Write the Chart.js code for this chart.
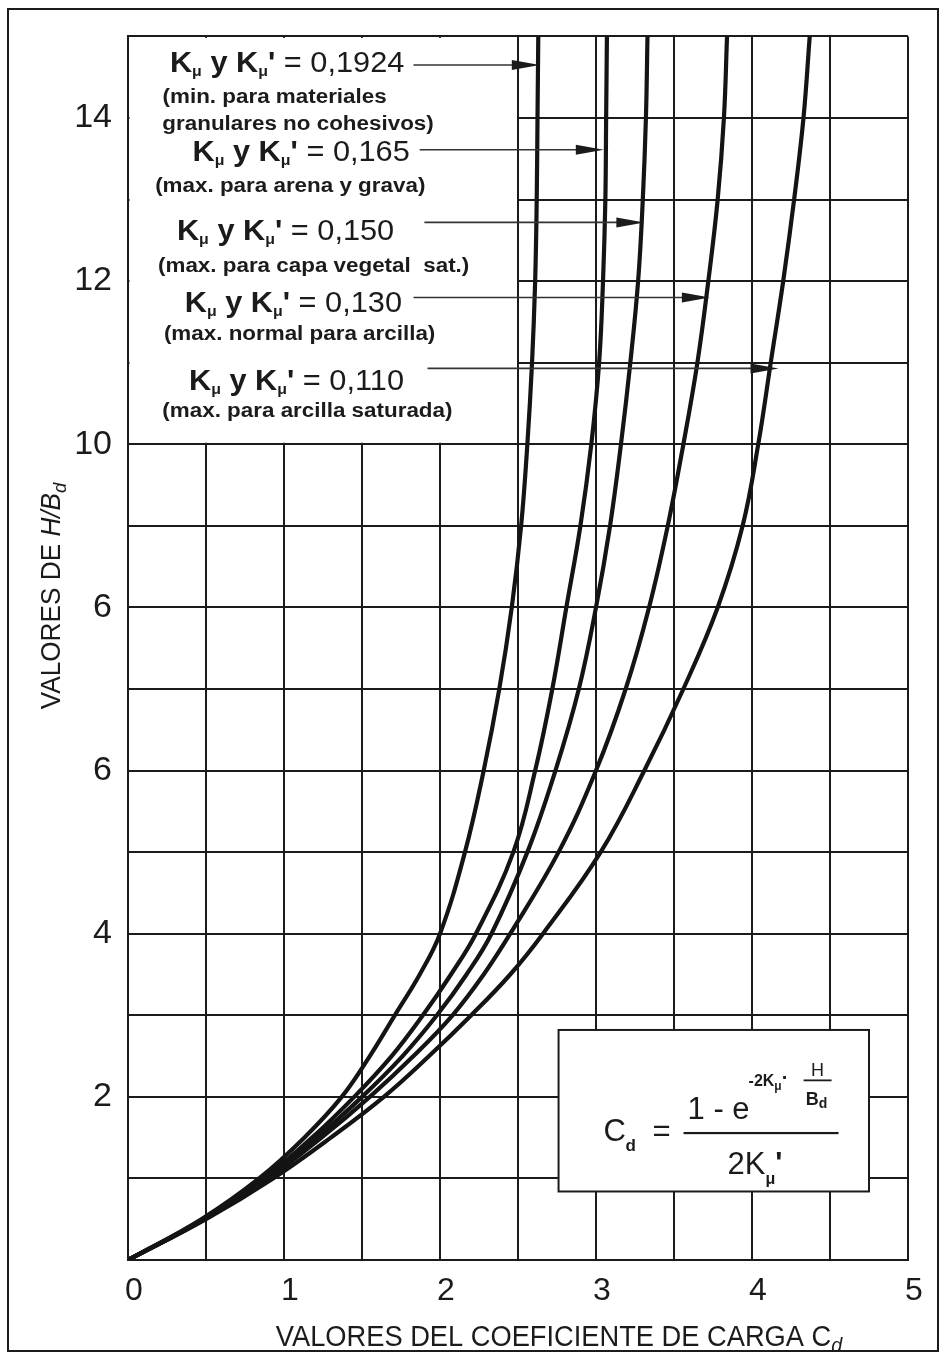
<!DOCTYPE html>
<html>
<head>
<meta charset="utf-8">
<script src="https://cdn.jsdelivr.net/npm/chart.js@4.4.1/dist/chart.umd.min.js"></script>
<style>
  html, body { margin: 0; padding: 0; background: #fff; }
  canvas { display: block; }
</style>
</head>
<body>
<canvas id="chart" width="941" height="1354"></canvas>
<script>
// H/Bd values, shared by every curve
const hOverB = [0, 0.5, 1, 1.5, 2, 2.5, 3, 3.5, 4, 5, 6, 7, 8, 9, 10, 11, 12, 13, 14, 15];
// Cd, one list per K value
const cdK1924 = [0, 0.47, 0.84, 1.13, 1.37, 1.55, 1.71, 1.87, 2.0, 2.16, 2.28, 2.38, 2.46, 2.52, 2.56, 2.59, 2.61, 2.62, 2.625, 2.63];
const cdK165 = [0, 0.48, 0.87, 1.18, 1.45, 1.69, 1.89, 2.07, 2.23, 2.47, 2.61, 2.72, 2.81, 2.9, 2.97, 3.02, 3.045, 3.06, 3.065, 3.07];
const cdK150 = [0, 0.49, 0.88, 1.21, 1.5, 1.76, 1.98, 2.17, 2.33, 2.56, 2.74, 2.89, 3.0, 3.09, 3.16, 3.22, 3.27, 3.3, 3.32, 3.33];
const cdK130 = [0, 0.49, 0.9, 1.24, 1.55, 1.83, 2.08, 2.28, 2.45, 2.76, 3.0, 3.19, 3.34, 3.46, 3.56, 3.65, 3.72, 3.78, 3.82, 3.84];
const cdK110 = [0, 0.5, 0.93, 1.3, 1.64, 1.93, 2.2, 2.45, 2.66, 3.03, 3.31, 3.56, 3.78, 3.94, 4.04, 4.12, 4.2, 4.27, 4.33, 4.37];

const kValues = ['0,1924', '0,165', '0,150', '0,130', '0,110'];
const kNotes = [
    ['(min. para materiales', 'granulares no cohesivos)'],
    ['(max. para arena y grava)'],
    ['(max. para capa vegetal  sat.)'],
    ['(max. normal para arcilla)'],
    ['(max. para arcilla saturada)'],
];

const xTickValues = [0, 1, 2, 3, 4, 5];
const xTickText = ['0', '1', '2', '3', '4', '5'];
const yTickValues = [2, 4, 6, 8, 10, 12, 14];
const yTickText = ['2', '4', '6', '6', '10', '12', '14'];

const SANS = '"Liberation Sans", Arial, sans-serif';
const INK = '#1b1b1b';

// where the annotations sit, in data units
const labelArea = { x0: 0, x1: 2.5, y0: 10, y1: 15 };
const formulaBox = { x0: 2.76, x1: 4.75, y0: 0.84, y1: 2.82 };
const kLabelPos = [[1.02, 14.69], [1.11, 13.59], [1.01, 12.63], [1.06, 11.75], [1.08, 10.79]];
const notePos = [[[0.94, 14.27], [1.09, 13.94]], [[1.04, 13.18]], [[1.19, 12.2]], [[1.1, 11.37]], [[1.15, 10.42]]];
const arrows = [
    { from: 1.83, to: 2.64, y: 14.65 },
    { from: 1.87, to: 3.05, y: 13.61 },
    { from: 1.9, to: 3.31, y: 12.72 },
    { from: 1.83, to: 3.73, y: 11.8 },
    { from: 1.92, to: 4.17, y: 10.93 },
];

function richWidth(ctx, parts) {
    let w = 0;
    parts.forEach(p => {
        ctx.font = p.font;
        w += ctx.measureText(p.t).width + (p.dx || 0);
    });
    return w;
}

// draws pieces of text one after another; stretch widens or narrows them
function drawRich(ctx, parts, x, y, align, stretch) {
    stretch = stretch || 1;
    const w = richWidth(ctx, parts) * stretch;
    let left = x;
    if (align === 'center') left = x - w / 2;
    if (align === 'right') left = x - w;
    ctx.save();
    ctx.translate(left, y);
    ctx.scale(stretch, 1);
    let cx = 0;
    parts.forEach(p => {
        ctx.font = p.font;
        ctx.fillText(p.t, cx, p.dy || 0);
        cx += ctx.measureText(p.t).width + (p.dx || 0);
    });
    ctx.restore();
    return left + w;
}

function kParts(value) {
    const big = 'bold 29px ' + SANS;
    const reg = '29px ' + SANS;
    const sub = 'bold 15px ' + SANS;
    return [
        { t: 'K', font: big },
        { t: 'μ', font: sub, dy: 4 },
        { t: ' y K', font: big },
        { t: 'μ', font: sub, dy: 4 },
        { t: "'", font: big },
        { t: ' = ' + value, font: reg },
    ];
}

const overlay = {
    id: 'overlay',
    beforeDatasetsDraw(chart) {
        const { ctx, scales: { x, y } } = chart;
        ctx.save();
        ctx.fillStyle = '#fff';
        // the label corner has no grid
        const l = x.getPixelForValue(labelArea.x0) + 1.5;
        const r = x.getPixelForValue(labelArea.x1) - 1;
        const t = y.getPixelForValue(labelArea.y1) + 1.5;
        const b = y.getPixelForValue(labelArea.y0) - 1.5;
        ctx.fillRect(l, t, r - l, b - t);

        // formula box
        const bx = x.getPixelForValue(formulaBox.x0);
        const bx1 = x.getPixelForValue(formulaBox.x1);
        const by = y.getPixelForValue(formulaBox.y1);
        const by1 = y.getPixelForValue(formulaBox.y0);
        ctx.fillRect(bx, by, bx1 - bx, by1 - by);
        ctx.strokeStyle = INK;
        ctx.lineWidth = 2;
        ctx.strokeRect(bx, by, bx1 - bx, by1 - by);
        ctx.restore();
    },
    afterDatasetsDraw(chart) {
        const { ctx, scales: { x, y } } = chart;
        ctx.save();
        ctx.fillStyle = INK;
        ctx.textBaseline = 'alphabetic';

        // K labels and their notes
        kValues.forEach((v, i) => {
            const [lx, ly] = kLabelPos[i];
            drawRich(ctx, kParts(v), x.getPixelForValue(lx), y.getPixelForValue(ly) + 10, 'center', 1.06);
            kNotes[i].forEach((note, j) => {
                const [nx, ny] = notePos[i][j];
                drawRich(ctx, [{ t: note, font: 'bold 20px ' + SANS }], x.getPixelForValue(nx), y.getPixelForValue(ny) + 7, 'center', 1.12);
            });
        });

        // arrows from the labels to the curves
        ctx.strokeStyle = '#333';
        ctx.lineWidth = 1.6;
        arrows.forEach(a => {
            const x0 = x.getPixelForValue(a.from);
            const x1 = x.getPixelForValue(a.to);
            const yy = y.getPixelForValue(a.y);
            ctx.beginPath();
            ctx.moveTo(x0, yy);
            ctx.lineTo(x1 - 20, yy);
            ctx.stroke();
            ctx.beginPath();
            ctx.moveTo(x1, yy);
            ctx.lineTo(x1 - 28, yy - 5);
            ctx.lineTo(x1 - 28, yy + 5);
            ctx.closePath();
            ctx.fill();
        });

        // formula
        const bx = x.getPixelForValue(formulaBox.x0);
        const by = y.getPixelForValue(formulaBox.y1);
        const f31 = '31px ' + SANS;
        drawRich(ctx, [{ t: 'C', font: f31 }], bx + 45, by + 111, 'left');
        drawRich(ctx, [{ t: 'd', font: 'bold 17px ' + SANS }], bx + 67, by + 121, 'left');
        drawRich(ctx, [{ t: '=', font: f31 }], bx + 94, by + 111, 'left');
        ctx.fillRect(bx + 125, by + 102, 155, 2.2);
        drawRich(ctx, [{ t: '1 - e', font: f31 }], bx + 129, by + 89, 'left');
        drawRich(ctx, [
            { t: '-2K', font: 'bold 16px ' + SANS },
            { t: 'μ', font: 'bold 12px ' + SANS, dy: 4 },
            { t: '·', font: 'bold 20px ' + SANS, dy: -2 },
        ], bx + 190, by + 56, 'left');
        drawRich(ctx, [{ t: 'H', font: '18px ' + SANS }], bx + 259, by + 46, 'center');
        ctx.fillRect(bx + 245, by + 49.5, 28, 1.8);
        drawRich(ctx, [
            { t: 'B', font: 'bold 18px ' + SANS },
            { t: 'd', font: 'bold 14px ' + SANS, dy: 3 },
        ], bx + 258, by + 75, 'center');
        drawRich(ctx, [
            { t: '2K', font: f31 },
            { t: 'μ', font: 'bold 16px ' + SANS, dy: 10 },
            { t: "'", font: 'bold 30px ' + SANS, dy: -2 },
        ], bx + 169, by + 144, 'left');

        // axis titles
        drawRich(ctx, [
            { t: 'VALORES DEL COEFICIENTE DE CARGA C', font: '29px ' + SANS },
            { t: 'd', font: 'italic 21px ' + SANS, dy: 6 },
        ], 559, 1346, 'center', 0.94);

        ctx.save();
        ctx.translate(60, 596);
        ctx.rotate(-Math.PI / 2);
        drawRich(ctx, [
            { t: 'VALORES DE ', font: '27px ' + SANS },
            { t: 'H/B', font: 'italic 27px ' + SANS },
            { t: 'd', font: 'italic 19px ' + SANS, dy: 6 },
        ], 0, 0, 'center', 0.97);
        ctx.restore();
        ctx.restore();
    },
    afterDraw(chart) {
        const { ctx } = chart;
        ctx.save();
        ctx.strokeStyle = INK;
        ctx.lineWidth = 2;
        ctx.strokeRect(8, 9, 930, 1342);
        ctx.restore();
    },
};

const curveSets = [cdK1924, cdK165, cdK150, cdK130, cdK110];
const datasets = curveSets.map((cd, i) => ({
    label: 'K = ' + kValues[i],
    data: hOverB.map((h, j) => ({ x: cd[j], y: h })),
    showLine: true,
    tension: 0.4,
    borderColor: '#141414',
    borderWidth: 4.2,
    pointRadius: 0,
    fill: false,
}));

const gridStyle = { color: INK, lineWidth: 2, drawTicks: false };

new Chart(document.getElementById('chart').getContext('2d'), {
    type: 'scatter',
    data: { datasets: datasets },
    options: {
        responsive: false,
        animation: false,
        layout: { padding: { top: 33, right: 33, left: 0, bottom: 0 } },
        plugins: {
            legend: { display: false },
            tooltip: { enabled: false },
        },
        scales: {
            x: {
                type: 'linear',
                min: 0,
                max: 5,
                afterFit: scale => { scale.height = 94; },
                grid: gridStyle,
                border: { color: INK, width: 2 },
                ticks: {
                    stepSize: 0.5,
                    autoSkip: false,
                    maxRotation: 0,
                    padding: 12,
                    labelOffset: 6,
                    color: INK,
                    font: { family: SANS, size: 32 },
                    callback: v => {
                        const i = xTickValues.indexOf(v);
                        return i >= 0 ? xTickText[i] : '';
                    },
                },
            },
            y: {
                type: 'linear',
                min: 0,
                max: 15,
                afterFit: scale => { scale.width = 128; },
                grid: gridStyle,
                border: { color: INK, width: 2 },
                ticks: {
                    stepSize: 1,
                    autoSkip: false,
                    padding: 16,
                    color: INK,
                    font: { family: SANS, size: 34 },
                    callback: v => {
                        const i = yTickValues.indexOf(v);
                        return i >= 0 ? yTickText[i] : '';
                    },
                },
            },
        },
    },
    plugins: [overlay],
});
</script>
</body>
</html>
